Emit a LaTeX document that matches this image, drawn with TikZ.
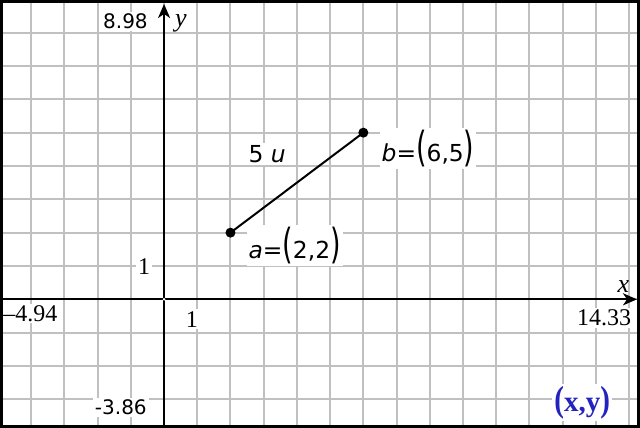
\documentclass[tikz,border=0pt]{standalone}
\usepackage{fontspec}
\usepackage{graphicx}
\usetikzlibrary{arrows.meta}
\newfontfamily\labsans{DejaVu Sans}
\newfontfamily\labserif{Liberation Serif}
\definecolor{gridgray}{RGB}{192,192,192}
\definecolor{xyblue}{RGB}{35,35,190}
\newcommand{\bigparL}{\scalebox{1.15}[1.77]{(}}
\newcommand{\bigparR}{\scalebox{1.15}[1.77]{)}}
\newcommand{\blueparL}{\scalebox{1}[1.25]{(}}
\newcommand{\blueparR}{\scalebox{1}[1.25]{)}}
\begin{document}
\begin{tikzpicture}[x=16.61pt,y=16.67pt,
  gridline/.style={draw=gridgray,line width=1pt},
  axisline/.style={draw=black,line width=1pt},
  tickmark/.style={draw=gridgray,line width=1pt},
  dotnode/.style={circle,fill=black,inner sep=0pt,minimum size=5pt},
  seglabel/.style={font=\labsans\fontsize{11.7}{13}\selectfont,fill=white,inner sep=1pt},
  sanslabel/.style={font=\labsans\fontsize{10}{12}\selectfont,fill=white,inner sep=1pt},
  seriflabel/.style={font=\labserif\fontsize{12}{13}\selectfont,fill=white,inner sep=1pt},
  axisname/.style={font=\labserif\itshape\fontsize{13}{14}\selectfont,inner sep=0pt},
  bluelabel/.style={font=\labserif\bfseries\fontsize{14.5}{16}\selectfont,text=xyblue,fill=white,inner sep=1pt}]
\useasboundingbox (-4.94,-3.86) rectangle (14.33,8.98);
% grid
\foreach \i in {-4,...,14} \draw[gridline] (\i,-3.86) -- (\i,8.98);
\foreach \j in {-3,...,8} \draw[gridline] (-4.94,\j) -- (14.33,\j);
% labels with white backgrounds
\node[sanslabel,anchor=east] (ymax) at (-0.42,8.34) {8.98};
\node[sanslabel,anchor=east] (ymin) at (-0.45,-3.24) {-3.86};
\node[seriflabel,anchor=west] (xmin) at (-4.91,-0.42) {–4.94};
\node[seriflabel] (xmax) at (13.25,-0.56) {14.33};
\node[seriflabel] (xone) at (0.84,-0.6) {1};
\node[seriflabel] (yone) at (-0.6,0.99) {1};
\node[seglabel,anchor=base west] (len) at (2.47,4.11) {5 {\itshape u}};
\node[seglabel,anchor=base west] (alab) at (2.47,1.23) {{\itshape a}=\bigparL2,2\bigparR};
\node[seglabel,anchor=base west] (blab) at (6.48,4.14) {{\itshape b}=\bigparL6,5\bigparR};
\node[bluelabel] (xy) at (12.59,-3.09) {\blueparL x,y\blueparR};
% ticks
\foreach \i in {-4,...,-1,1,2,...,14} \draw[tickmark] (\i,0) ++(0,-2.5pt) -- ++(0,5pt);
\foreach \j in {-3,...,-1,1,2,...,8} \draw[tickmark] (0,\j) ++(-3pt,0) -- ++(6pt,0);
% axes
\coordinate (xl) at (-4.94,0);
\coordinate (xr) at (14.24,0);
\coordinate (yb) at (0,-3.86);
\coordinate (yt) at (0,8.86);
\draw[axisline,-{Stealth[length=7pt,width=6pt,inset=2pt]}] (xl) -- (xr);
\draw[axisline,-{Stealth[length=7pt,width=6pt,inset=2pt]}] (yb) -- (yt);
\node[axisname] (xname) at (13.83,0.38) {x};
\node[axisname] (yname) at (0.51,8.28) {y};
\node[circle,fill=white,inner sep=0pt,minimum size=1.4pt] (origin) at (0,0) {};
% segment
\node[dotnode] (a) at (2,2) {};
\node[dotnode] (b) at (6,5) {};
\draw[line width=1pt] (a.center) -- (b.center);
% frame
\draw[line width=1.5pt] ([shift={(0.75pt,0.75pt)}]-4.94,-3.86) rectangle ([shift={(-0.75pt,-0.75pt)}]14.33,8.98);
\end{tikzpicture}
\end{document}
